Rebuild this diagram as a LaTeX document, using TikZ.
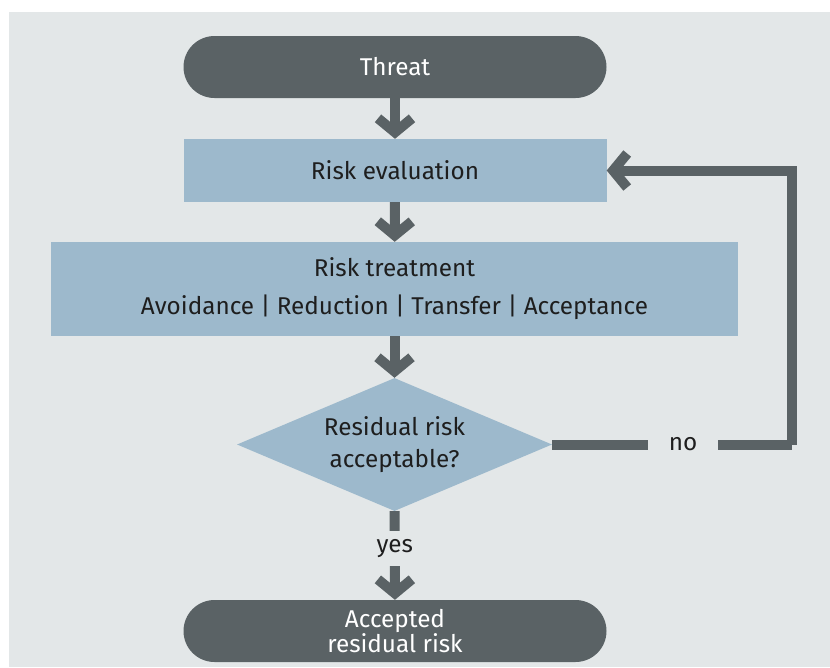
\documentclass[tikz,border=0pt]{standalone}
\usepackage{fontspec}
\setmainfont{Fira Sans}
\usetikzlibrary{shapes.geometric,arrows.meta}
\definecolor{bgc}{HTML}{E3E7E8}
\definecolor{dark}{HTML}{5A6265}
\definecolor{pale}{HTML}{9DB9CC}
\definecolor{ink}{HTML}{1E1E1E}
\begin{document}
\begin{tikzpicture}[x=1pt,y=-1pt,
  terminal/.style={fill=dark, text=white, rounded corners=31pt,
    minimum width=423pt, minimum height=62pt, inner sep=0pt,
    align=center, font=\fontsize{24.3}{25}\selectfont},
  process/.style={fill=pale, text=ink, minimum width=423pt,
    minimum height=63pt, inner sep=0pt, align=center,
    font=\fontsize{24.3}{38}\selectfont},
  decision/.style={diamond, shape aspect=2.37, fill=pale, text=ink,
    minimum width=315pt, minimum height=133pt, inner sep=0pt,
    align=center, font=\fontsize{24.3}{32}\selectfont},
  link/.style={draw=dark, line width=10pt},
  flow/.style={link, -{Straight Barb[length=14pt, width=34pt]}},
  tag/.style={fill=bgc, text=ink, inner sep=0pt,
    font=\fontsize{24.3}{26}\selectfont}
]
\useasboundingbox (0,0) rectangle (830,667);
\fill[bgc] (9,12) rectangle (830,667);

\node[terminal] (threat) at (395,67) {Threat};
\node[process] (eval) at (395,170.5) {Risk evaluation};
\node[process, minimum width=687pt, minimum height=94pt] (treat) at (394.5,289)
  {Risk treatment\\Avoidance | Reduction | Transfer | Acceptance};
\node[decision] (check) at (394.5,444.5) {Residual risk\\acceptable?};
\node[terminal] (accept) at (395,631) {Accepted\\residual risk};
\coordinate (turn) at (792,444.5);

\draw[flow] (threat) -- (eval);
\draw[flow] (eval) -- (treat);
\draw[flow] (treat) -- (check);
\draw[flow] (check) -- node[tag, pos=0.417, minimum height=35pt] {yes} (accept);
\draw[link] (check.east) -- node[tag, pos=0.546, minimum width=70pt, minimum height=20pt] {no} (turn);
\draw[flow] (turn) |- (eval.east);
\end{tikzpicture}
\end{document}
